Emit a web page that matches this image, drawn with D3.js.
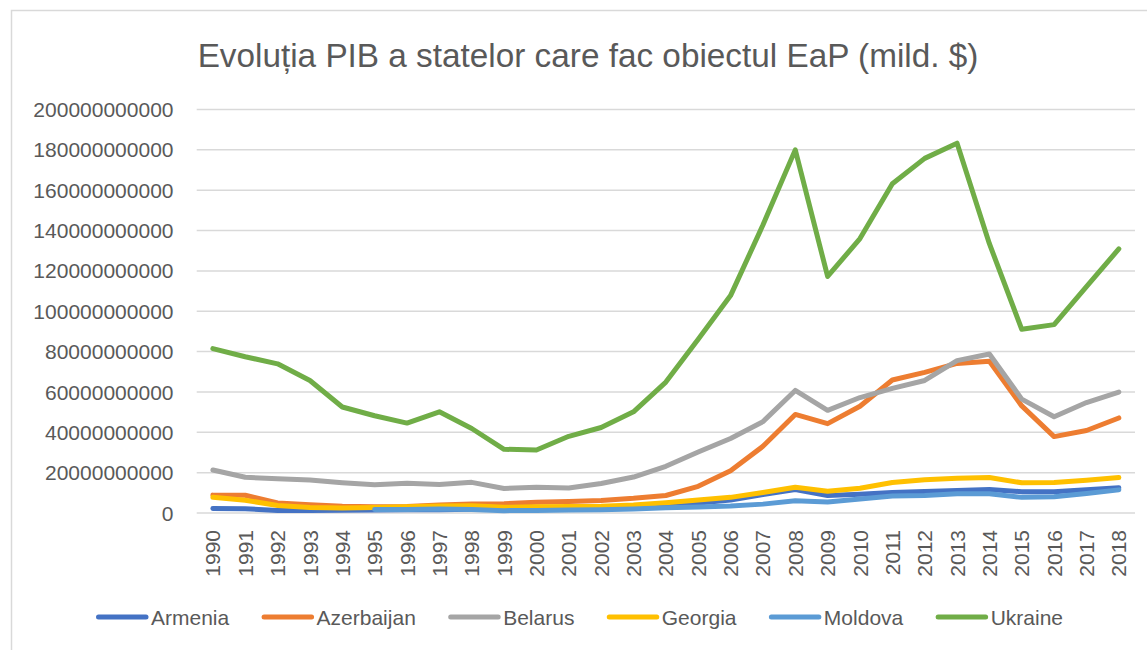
<!DOCTYPE html>
<html>
<head>
<meta charset="utf-8">
<script src="https://cdn.jsdelivr.net/npm/d3@7"></script>
<style>
  body { margin: 0; background: #fff; }
  text { font-family: "Liberation Sans", Arial, sans-serif; fill: #595959; }
</style>
</head>
<body>
<script>
// years on the category axis
var years = d3.range(1990, 2019).map(String);

// GDP, current US$
var armenia = [2.26,2.07,1.27,1.20,1.32,1.47,1.60,1.64,1.89,1.85,1.91,2.12,2.38,2.81,3.58,4.90,6.38,9.21,11.66,8.65,9.26,10.14,10.62,11.12,11.61,10.55,10.55,11.53,12.46];
var azerbaijan = [8.86,8.79,4.99,4.15,3.31,3.05,3.18,3.96,4.45,4.58,5.27,5.71,6.24,7.28,8.68,13.24,20.98,33.05,48.85,44.29,52.91,65.95,69.68,74.16,75.24,53.07,37.87,40.87,47.11];
var belarus = [21.3,17.7,17.0,16.3,15.0,13.97,14.76,14.13,15.2,12.14,12.74,12.35,14.59,17.83,23.14,30.21,36.96,45.28,60.75,50.88,57.23,61.76,65.69,75.53,78.81,56.45,47.72,54.73,59.95];
var georgia = [7.75,6.36,3.69,2.70,2.51,2.69,3.09,3.51,3.61,2.80,3.06,3.22,3.40,3.99,5.13,6.41,7.75,10.17,12.80,10.77,12.24,15.11,16.49,17.19,17.63,14.95,15.14,16.25,17.60];
var moldova = [null,null,null,null,null,1.75,1.70,1.93,1.70,1.17,1.29,1.48,1.66,1.98,2.60,2.99,3.41,4.40,6.05,5.44,6.97,8.41,8.71,9.50,9.51,7.75,8.07,9.67,11.46];
var ukraine = [81.46,77.46,73.94,65.65,52.55,48.21,44.56,50.15,41.88,31.58,31.26,38.01,42.39,50.13,64.88,86.14,107.75,142.72,179.99,117.23,136.01,163.16,175.78,183.31,133.5,91.03,93.36,112.19,130.9];

var seriesNames = ["Armenia","Azerbaijan","Belarus","Georgia","Moldova","Ukraine"];
var seriesValues = [armenia, azerbaijan, belarus, georgia, moldova, ukraine];
var colors = ["#4472C4","#ED7D31","#A5A5A5","#FFC000","#5B9BD5","#70AD47"];
var yTicks = d3.range(0, 200000000001, 20000000000);
var title = "Evoluția PIB a statelor care fac obiectul EaP (mild. $)";

var svg = d3.select("body").append("svg")
  .attr("width", 1147).attr("height", 650);

// chart frame
svg.append("path")
  .attr("d", "M11.5,652 V10.5 H1150")
  .attr("fill", "none").attr("stroke", "#d9d9d9").attr("stroke-width", 1.5);

var x = d3.scaleBand().domain(years).range([196.7, 1135]);
var y = d3.scaleLinear().domain([0, 200000000000]).range([513, 109.5]);
var cx = function(yr) { return x(yr) + x.bandwidth() / 2; };

// title
var t = svg.append("text")
  .attr("x", 588).attr("y", 66.7)
  .attr("text-anchor", "middle")
  .style("font-size", "32px")
  .text(title);
var tw = t.node().getComputedTextLength();
t.style("font-size", (32 * 781 / tw) + "px");

// gridlines
svg.append("g").selectAll("line")
  .data(yTicks)
  .enter().append("line")
  .attr("x1", 196.7).attr("x2", 1135)
  .attr("y1", function(d) { return y(d); })
  .attr("y2", function(d) { return y(d); })
  .attr("stroke", "#d9d9d9").attr("stroke-width", 1.5);

// y labels
svg.append("g").selectAll("text")
  .data(yTicks)
  .enter().append("text")
  .attr("x", 173.5)
  .attr("y", function(d) { return y(d); })
  .attr("dy", "0.36em")
  .attr("text-anchor", "end")
  .style("font-size", "21px")
  .text(d3.format("d"));

// x labels, rotated
svg.append("g").selectAll("text")
  .data(years)
  .enter().append("text")
  .attr("transform", function(d) { return "translate(" + cx(d) + ",530) rotate(-90)"; })
  .attr("dy", "0.36em")
  .attr("text-anchor", "end")
  .style("font-size", "21px")
  .text(function(d) { return d; });

// lines
var line = d3.line()
  .defined(function(d) { return d.v != null; })
  .x(function(d) { return cx(d.year); })
  .y(function(d) { return y(d.v * 1e9); });

seriesValues.forEach(function(vals, i) {
  var pts = vals.map(function(v, j) { return { year: years[j], v: v }; });
  svg.append("path")
    .datum(pts)
    .attr("fill", "none")
    .attr("stroke", colors[i])
    .attr("stroke-width", 5)
    .attr("stroke-linejoin", "round")
    .attr("stroke-linecap", "round")
    .attr("d", line);
});

// legend: items spread over the same span as the original (96 .. 1063)
var legend = svg.append("g");
var items = seriesNames.map(function(name, i) {
  var g = legend.append("g");
  g.append("line")
    .attr("x1", 2.5).attr("x2", 50)
    .attr("y1", 617).attr("y2", 617)
    .attr("stroke", colors[i]).attr("stroke-width", 5)
    .attr("stroke-linecap", "round");
  var lt = g.append("text")
    .attr("x", 55).attr("y", 617)
    .attr("dy", "0.36em")
    .style("font-size", "21px")
    .text(name);
  return { g: g, w: 55 + lt.node().getComputedTextLength() };
});
var used = d3.sum(items, function(d) { return d.w; });
var gap = (967 - used) / (items.length - 1);
var pos = 96;
items.forEach(function(d) {
  d.g.attr("transform", "translate(" + pos + ",0)");
  pos += d.w + gap;
});
</script>
</body>
</html>
